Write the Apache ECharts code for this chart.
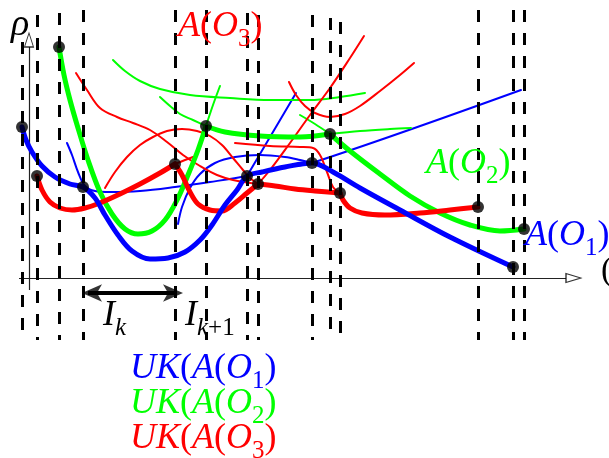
<!DOCTYPE html>
<html>
<head>
<meta charset="utf-8">
<script src="https://cdn.jsdelivr.net/npm/echarts@6/dist/echarts.min.js"></script>
<style>
  html, body { margin: 0; padding: 0; background: #fff; }
  #chart { width: 609px; height: 458px; }
</style>
</head>
<body>
<div id="chart"></div>
<script>
// Horizontal axis: time t; vertical axis: rho. Origin where the two axes cross.

// interval boundaries (dashed verticals) and where each dashed line starts
const intervalBounds = [-7, 8, 30, 54, 146, 177, 218, 229, 283, 301, 311, 449, 484, 495];
const boundTops      = [236, 263, 265, 268, 268, 268, 265, 263, 263, 260, 256, 268, 268, 268];
const boundBottom    = -62;

// I_k interval (double arrow under the axis)
const ikSpan = [53, 154];
const ikLevel = -15;

// axis extents
const tAxisRange   = [-10, 537];
const rhoAxisRange = [-12, 231];

// ---- A(O1), blue ----
const o1Lower = [[-7,151],[-3,138],[3,126],[13,112],[26,101],[41,94],[54,91],[66,80],[76,63],[89,43],[103,27],[121,19],[139,20],[156,26],[171,38],[183,53],[196,73],[208,88],[218,102],[233,106],[256,111],[283,115],[304,106],[331,90],[371,68],[421,41],[484,11]];
const o1ThinA  = [[38,135],[43,123],[49,106],[56,92],[66,87],[81,86],[111,87],[146,91],[181,96],[218,102],[233,106],[256,111],[283,115],[492,188]];
const o1ThinB  = [[149,54],[153,71],[161,90],[171,104],[186,115],[206,121],[231,123],[256,121],[271,118],[283,115]];
const o1ThinC  = [[218,102],[267,185]];
const o1Points = [[-7,151],[54,91],[218,102],[283,115],[484,11]];

// ---- A(O2), green ----
const o2Lower1 = [[30,231],[35,203],[41,178],[49,150],[59,118],[71,86],[83,64],[96,49],[109,44],[123,47],[136,58],[148,78],[159,103],[169,128],[177,152]];
const o2Lower2 = [[177,152],[196,146],[231,142],[271,141],[301,144]];
const o2Lower3 = [[301,144],[321,127],[351,104],[381,82],[411,65],[441,53],[471,47],[495,49]];
const o2ThinUp   = [[177,152],[184,173],[191,192]];
const o2ThinPre  = [[131,181],[141,172],[151,164],[164,158],[177,152]];
const o2ThinPre2 = [[271,163],[286,154],[301,144]];
const o2ThinPost = [[301,144],[331,147],[361,149],[382,150]];
const o2ThinArc  = [[84,218],[96,207],[111,197],[131,189],[161,183],[201,180],[241,178],[281,178],[311,181],[336,185]];
const o2Points = [[30,231],[177,152],[301,144],[495,49]];

// ---- A(O3), red ----
const o3Lower1 = [[8,102],[13,88],[21,76],[31,70],[43,68],[56,70],[71,75],[91,84],[111,94],[131,105],[146,114]];
const o3Lower2 = [[146,114],[153,103],[161,86],[169,74],[181,68],[193,67],[206,75],[218,85],[229,94]];
const o3Lower3 = [[229,94],[246,92],[266,89],[286,87],[311,85]];
const o3Lower4 = [[311,85],[314,78],[321,70],[333,65],[356,63],[391,65],[421,68],[449,71]];
const o3ThinExt = [[146,114],[156,118],[164,121]];
const o3Thin1 = [[47,205],[58,188],[71,170],[88,161],[104,155],[121,148],[138,136],[154,123],[171,112],[188,103],[204,98],[229,94]];
const o3Thin2 = [[76,90],[86,106],[98,121],[111,133],[124,141],[138,147],[153,149],[168,147],[181,142],[193,133],[204,120],[214,108],[221,100],[229,94]];
const o3Thin3 = [[229,94],[241,108],[261,135],[281,163],[301,190],[321,220],[335,242]];
const o3Thin4 = [[260,196],[267,183],[276,172],[286,165],[301,161],[316,164],[331,172],[351,187],[371,203],[385,215]];
const o3Thin5 = [[206,135],[241,132],[271,131],[284,130],[291,123],[298,106],[304,91],[311,85]];
const o3Points = [[8,102],[146,114],[229,94],[311,85],[449,71]];

const BLUE = '#0000ff', GREEN = '#00ff00', RED = '#ff0000';
const THICK = 5, THIN = 2;
const FONT = 'Liberation Serif';

function curve(data, color, width, z) {
  return {
    type: 'line', data: data, smooth: 0.35, showSymbol: false, symbol: 'none',
    clip: false, silent: true, z: z,
    lineStyle: { color: color, width: width, cap: 'round', join: 'round' }
  };
}

function dots(data) {
  return {
    type: 'scatter', data: data, symbol: 'circle', symbolSize: 12, clip: false, z: 20,
    itemStyle: { color: '#000' }
  };
}

// rich-text styles for math-like labels: italic letters, upright brackets, lowered subscripts
function mathRich(color) {
  return {
    i:  { fontFamily: FONT, fontStyle: 'italic', fontSize: 36, lineHeight: 44, fill: color },
    u:  { fontFamily: FONT, fontStyle: 'normal', fontSize: 36, lineHeight: 44, fill: color },
    s:  { fontFamily: FONT, fontStyle: 'normal', fontSize: 25, lineHeight: 20, padding: [24, 0, 0, 0], fill: color },
    si: { fontFamily: FONT, fontStyle: 'italic', fontSize: 25, lineHeight: 20, padding: [24, 0, 0, 0], fill: color }
  };
}
function mathText(x, y, text, color) {
  return {
    type: 'text', x: x, y: y, z: 30,
    style: { text: text, rich: mathRich(color), fontFamily: FONT, fontSize: 36,
             align: 'left', verticalAlign: 'top', fill: color }
  };
}

const headLen = 20, headWidth = 13;

const series = [
  // thin branches
  curve(o1ThinA, BLUE, THIN, 2), curve(o1ThinB, BLUE, THIN, 2), curve(o1ThinC, BLUE, THIN, 2),
  curve(o2ThinUp, GREEN, THIN, 2), curve(o2ThinPre, GREEN, THIN, 2), curve(o2ThinPre2, GREEN, THIN, 2),
  curve(o2ThinPost, GREEN, THIN, 2), curve(o2ThinArc, GREEN, THIN, 2),
  curve(o3ThinExt, RED, THIN, 2), curve(o3Thin1, RED, THIN, 2), curve(o3Thin2, RED, THIN, 2),
  curve(o3Thin3, RED, THIN, 2), curve(o3Thin4, RED, THIN, 2), curve(o3Thin5, RED, THIN, 2),
  // lower envelopes
  curve(o2Lower1, GREEN, THICK, 4), curve(o2Lower2, GREEN, THICK, 4), curve(o2Lower3, GREEN, THICK, 4),
  curve(o3Lower1, RED, THICK, 5), curve(o3Lower2, RED, THICK, 5), curve(o3Lower3, RED, THICK, 5), curve(o3Lower4, RED, THICK, 5),
  curve(o1Lower, BLUE, THICK, 6),
  // interval boundaries
  {
    type: 'lines', coordinateSystem: 'cartesian2d', z: 10, silent: true,
    data: intervalBounds.map((t, i) => ({ coords: [[t, boundTops[i]], [t, boundBottom]] })),
    lineStyle: { color: '#000', width: 3, type: [12, 11], opacity: 1 }
  },
  // axes
  {
    type: 'lines', coordinateSystem: 'cartesian2d', z: 1, silent: true,
    data: [
      { coords: [[tAxisRange[0], 0], [tAxisRange[1], 0]] },
      { coords: [[0, rhoAxisRange[0]], [0, rhoAxisRange[1]]] }
    ],
    lineStyle: { color: '#222', width: 1.2, opacity: 1 }
  },
  {
    type: 'scatter', clip: false, z: 3, silent: true,
    data: [
      { value: [tAxisRange[1] + 7.5, 0], symbolRotate: -90, symbolSize: [9, 15] },
      { value: [0, rhoAxisRange[1] + 7], symbolRotate: 0, symbolSize: [9, 14] }
    ],
    symbol: 'triangle',
    itemStyle: { color: '#fff', borderColor: '#000', borderWidth: 1.1 }
  },
  // I_k double arrow (arrow symbol tip sits at its anchor point)
  {
    type: 'lines', coordinateSystem: 'cartesian2d', z: 12, silent: true,
    data: [{ coords: [[ikSpan[0] + 6, ikLevel], [ikSpan[1] - 6, ikLevel]] }],
    lineStyle: { color: '#000', width: 4, opacity: 1 }
  },
  {
    type: 'scatter', clip: false, z: 12, silent: true, symbol: 'arrow',
    data: [
      { value: [ikSpan[0], ikLevel], symbolRotate: 90 },
      { value: [ikSpan[1], ikLevel], symbolRotate: -90 }
    ],
    symbolSize: [headWidth, headLen],
    itemStyle: { color: '#000' }
  },
  dots(o1Points), dots(o2Points), dots(o3Points)
];

const chart = echarts.init(document.getElementById('chart'), null, { renderer: 'canvas' });
chart.setOption({
  animation: false,
  backgroundColor: '#fff',
  grid: { left: 0, right: 0, top: 0, bottom: 0 },
  xAxis: { type: 'value', min: -29, max: 580, show: false },
  yAxis: { type: 'value', min: -180, max: 278, show: false },
  series: series,
  graphic: [
    { type: 'text', x: 11, y: 6, z: 30,
      style: { text: 'ρ', fontFamily: FONT, fontStyle: 'italic', fontSize: 38, fill: '#000', align: 'left', verticalAlign: 'top' } },
    { type: 'text', x: 601, y: 254, z: 30,
      style: { text: '(', fontFamily: FONT, fontSize: 34, fill: '#000', align: 'left', verticalAlign: 'top' } },
    mathText(178, 5, '{i|A}{u|(}{i|O}{s|3}{u|)}', RED),
    mathText(426, 142, '{i|A}{u|(}{i|O}{s|2}{u|)}', GREEN),
    mathText(525, 214, '{i|A}{u|(}{i|O}{s|1}{u|)}', BLUE),
    mathText(103, 294, '{i|I}{si|k}', '#000'),
    mathText(185, 294, '{i|I}{si|k}{s|+1}', '#000'),
    mathText(130, 347, '{i|U}{i|K}{u|(}{i|A}{u|(}{i|O}{s|1}{u|)}', BLUE),
    mathText(130, 382, '{i|U}{i|K}{u|(}{i|A}{u|(}{i|O}{s|2}{u|)}', GREEN),
    mathText(130, 417, '{i|U}{i|K}{u|(}{i|A}{u|(}{i|O}{s|3}{u|)}', RED)
  ]
});
</script>
</body>
</html>
